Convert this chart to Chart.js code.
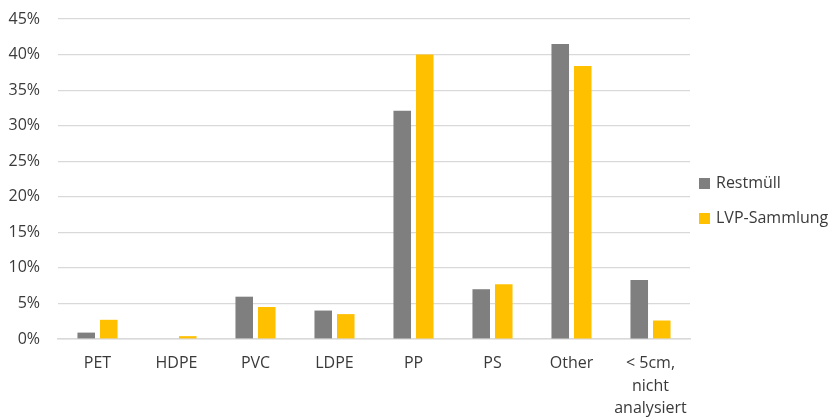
<!DOCTYPE html>
<html>
<head>
<meta charset="utf-8">
<script src="https://cdn.jsdelivr.net/npm/chart.js@4/dist/chart.umd.min.js"></script>
<style>
  html, body { margin: 0; padding: 0; background: #fff; overflow: hidden; }
  #wrap { position: relative; width: 834px; height: 417px; }
</style>
</head>
<body>
<div id="wrap"><canvas id="c"></canvas></div>
<script>
// Plastic fractions by polymer type, in percent
const categories = ['PET', 'HDPE', 'PVC', 'LDPE', 'PP', 'PS', 'Other', ['< 5cm,', 'nicht', 'analysiert']];
const restmuell = [0.9, 0, 5.95, 4.0, 32.1, 7.0, 41.5, 8.3];
const lvpSammlung = [2.7, 0.4, 4.5, 3.5, 40.0, 7.7, 38.4, 2.6];
const seriesNames = ['Restmüll', 'LVP-Sammlung'];
const yTicks = [0, 5, 10, 15, 20, 25, 30, 35, 40, 45];

const FONT = "'Open Sans', 'DejaVu Sans', sans-serif";
const TEXT = '#3a3a3a';
const FONT_SIZE = 16;

// Vertical legend to the right of the plot area, left-aligned items
const sideLegend = {
  id: 'sideLegend',
  afterDraw(chart) {
    const { ctx, chartArea } = chart;
    const box = 11;
    const x0 = chartArea.right + 9;
    const yStart = chartArea.top + 164;
    const step = 35;
    ctx.save();
    ctx.font = FONT_SIZE + 'px ' + FONT;
    ctx.textBaseline = 'middle';
    ctx.textAlign = 'left';
    chart.data.datasets.forEach((ds, i) => {
      const y = yStart + i * step;
      ctx.fillStyle = ds.backgroundColor;
      ctx.fillRect(x0, Math.round(y - box / 2), box, box);
      ctx.fillStyle = TEXT;
      ctx.fillText(ds.label, x0 + box + 6, y);
    });
    ctx.restore();
  }
};

new Chart(document.getElementById('c'), {
  type: 'bar',
  data: {
    labels: categories,
    datasets: [
      { label: seriesNames[0], data: restmuell, backgroundColor: '#7f7f7f' },
      { label: seriesNames[1], data: lvpSammlung, backgroundColor: '#ffc000' }
    ]
  },
  plugins: [sideLegend],
  options: {
    responsive: true,
    maintainAspectRatio: false,
    animation: false,
    datasets: { bar: { categoryPercentage: 0.57, barPercentage: 0.78 } },
    layout: { padding: { top: 19, left: 8, right: 144, bottom: 0 } },
    plugins: {
      tooltip: { enabled: false },
      legend: { display: false }
    },
    scales: {
      x: {
        grid: { display: false, drawTicks: false },
        border: { display: true, color: '#d9d9d9', width: 1.5 },
        afterFit: (axis) => { axis.height = 78; axis.paddingLeft = 0; axis.paddingRight = 0; },
        ticks: {
          color: TEXT,
          padding: 13,
          maxRotation: 0,
          autoSkip: false,
          font: { family: FONT, size: FONT_SIZE, lineHeight: 1.42 }
        }
      },
      y: {
        min: 0,
        max: 45,
        afterBuildTicks: (axis) => { axis.ticks = yTicks.map(v => ({ value: v })); },
        afterFit: (axis) => { axis.width = 50; axis.paddingTop = 0; axis.paddingBottom = 0; },
        grid: { color: '#d9d9d9', lineWidth: 1.2, drawTicks: false },
        border: { display: false },
        ticks: {
          color: TEXT,
          padding: 18,
          font: { family: FONT, size: FONT_SIZE },
          callback: (v) => v + '%'
        }
      }
    }
  }
});
</script>
</body>
</html>
